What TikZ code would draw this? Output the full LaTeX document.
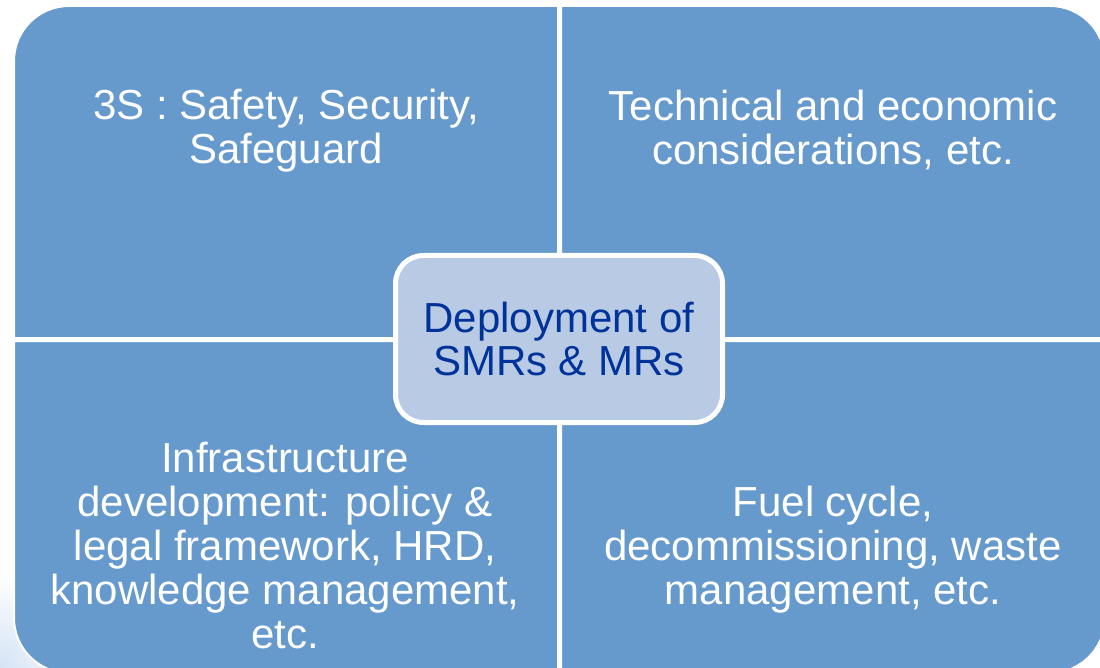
\documentclass[tikz,border=0pt]{standalone}
\usepackage{fontspec}
\setmainfont{Liberation Sans}
\usetikzlibrary{positioning}

\definecolor{quadblue}{RGB}{102,153,204}
\definecolor{hubfill}{RGB}{184,202,228}
\definecolor{hubtext}{RGB}{0,51,153}
\definecolor{bgtint}{RGB}{214,228,246}

\tikzset{
  quad/.style={fill=quadblue, draw=white, line width=2pt},
  quadtext/.style={text=white, align=center, anchor=north, inner sep=0pt,
    font=\fontsize{42}{44}\selectfont},
  hubbox/.style={fill=hubfill, draw=white, line width=5pt, rounded corners=28pt,
    minimum width=327pt, minimum height=167pt, inner sep=0pt,
    text=hubtext, align=center, font=\fontsize{42}{43.5}\selectfont}
}

\begin{document}
\begin{tikzpicture}[x=1pt,y=-1pt]
  \useasboundingbox (0,0) rectangle (1100,668);
  \clip (0,0) rectangle (1100,668);
  \fill[white] (0,0) rectangle (1100,668);

  % Background tint
  \shade[inner color=bgtint, outer color=white] (0,668) circle (95pt);

  % Quadrants
  \path[quad] (558,338) -- (14,338) [rounded corners=55pt] -- (14,6) [sharp corners] -- (558,6) -- cycle;
  \path[quad] (561,338) -- (561,6) [rounded corners=55pt] -- (1105,6) [sharp corners] -- (1105,338) -- cycle;
  \path[quad] (558,341) -- (14,341) [rounded corners=55pt] -- (14,673) [sharp corners] -- (558,673) -- cycle;
  \path[quad] (561,341) -- (561,673) [rounded corners=55pt] -- (1105,673) [sharp corners] -- (1105,341) -- cycle;

  % Texts
  \node[quadtext] (safety) at (286,89) {3S : Safety, Security,\\Safeguard};
  \node[quadtext] (technical) at (833,90) {Technical and economic\\considerations, etc.};
  \node[quadtext] (infra) at (285,442) {Infrastructure\\development: policy \&\\legal framework, HRD,\\knowledge management,\\etc.};
  \node[quadtext] (fuel) at (833,486) {Fuel cycle,\\decommissioning, waste\\management, etc.};

  % Centre
  \node[hubbox] (hub) at (559,339) {Deployment of\\SMRs \& MRs};
\end{tikzpicture}
\end{document}
